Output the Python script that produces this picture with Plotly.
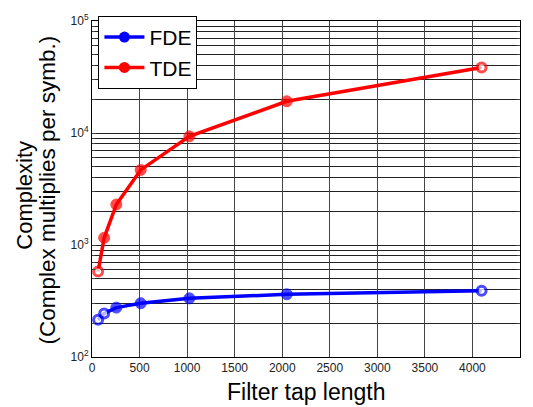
import plotly.graph_objects as go

taps = [64, 128, 256, 512, 1024, 2048, 4096]
fde = [215, 245, 276, 302, 334, 363, 390]
tde = [580, 1160, 2300, 4680, 9330, 19200, 38400]
fde_open = [True, True, False, False, False, False, True]
tde_open = [True, False, False, False, False, False, True]

x_ticks = [0, 500, 1000, 1500, 2000, 2500, 3000, 3500, 4000, 4500]
y_ticks = [100, 1000, 10000, 100000]
y_ticktext = ["10<sup>2</sup>", "10<sup>3</sup>", "10<sup>4</sup>", "10<sup>5</sup>"]
y_minor = [m * 10 ** e for e in (2, 3, 4) for m in range(2, 10)]

FONT = "Arial, Liberation Sans, sans-serif"

fig = go.Figure()
series = [("FDE", fde, fde_open, "#0000ff"), ("TDE", tde, tde_open, "#ff0000")]
for name, vals, opens, col in series:
    fig.add_trace(go.Scatter(
        x=taps, y=vals, name=name, mode="lines+markers", showlegend=False,
        line=dict(color=col, width=3.5),
        marker=dict(size=[9 if o else 11 for o in opens],
                    color=["white" if o else col for o in opens],
                    line=dict(color=col, width=[3 if o else 1 for o in opens]),
                    symbol="circle"),
    ))
for name, vals, opens, col in series:
    fig.add_trace(go.Scatter(
        x=[None], y=[None], name=name, mode="lines+markers",
        line=dict(color=col, width=3.5),
        marker=dict(size=11, color=col, symbol="circle"),
    ))

fig.update_layout(
    width=533, height=407,
    margin=dict(l=92, r=13, t=15, b=50),
    plot_bgcolor="white", paper_bgcolor="white",
    font=dict(family=FONT, color="#000"),
    showlegend=True,
    legend=dict(x=0.015, y=1.015, xanchor="left", yanchor="top",
                bgcolor="white", bordercolor="black", borderwidth=1,
                font=dict(size=21, family=FONT),
                itemwidth=40, tracegroupgap=0),
    annotations=[
        dict(text="Filter tap length", xref="paper", yref="paper", x=0.5, y=0,
             xanchor="center", yanchor="middle", yshift=-35, showarrow=False,
             font=dict(size=23, family=FONT)),
        dict(text="Complexity", xref="paper", yref="paper", x=0, y=0.48,
             xanchor="center", yanchor="middle", xshift=-67, textangle=-90,
             showarrow=False, font=dict(size=22, family=FONT)),
        dict(text="(Complex multiplies per symb.)", xref="paper", yref="paper", x=0, y=0.497,
             xanchor="center", yanchor="middle", xshift=-44.5, textangle=-90,
             showarrow=False, font=dict(size=22.5, family=FONT)),
    ],
)
fig.update_xaxes(
    range=[0, 4500], tickvals=x_ticks, ticks="inside", ticklen=4,
    tickfont=dict(size=12, color="#222"),
    showgrid=True, gridcolor="#444", gridwidth=1,
    showline=True, linecolor="black", linewidth=1, mirror="ticks",
    zeroline=False,
)
fig.update_yaxes(
    type="log", range=[2, 5], tickvals=y_ticks, ticktext=y_ticktext,
    ticks="inside", ticklen=4, tickfont=dict(size=12, color="#222"),
    showgrid=True, gridcolor="#222", gridwidth=1,
    minor=dict(tickmode="array", tickvals=y_minor, showgrid=True,
               gridcolor="#222", gridwidth=1, ticks="inside", ticklen=3),
    showline=True, linecolor="black", linewidth=1, mirror="ticks",
    zeroline=False,
)

fig.write_html("out.html")
